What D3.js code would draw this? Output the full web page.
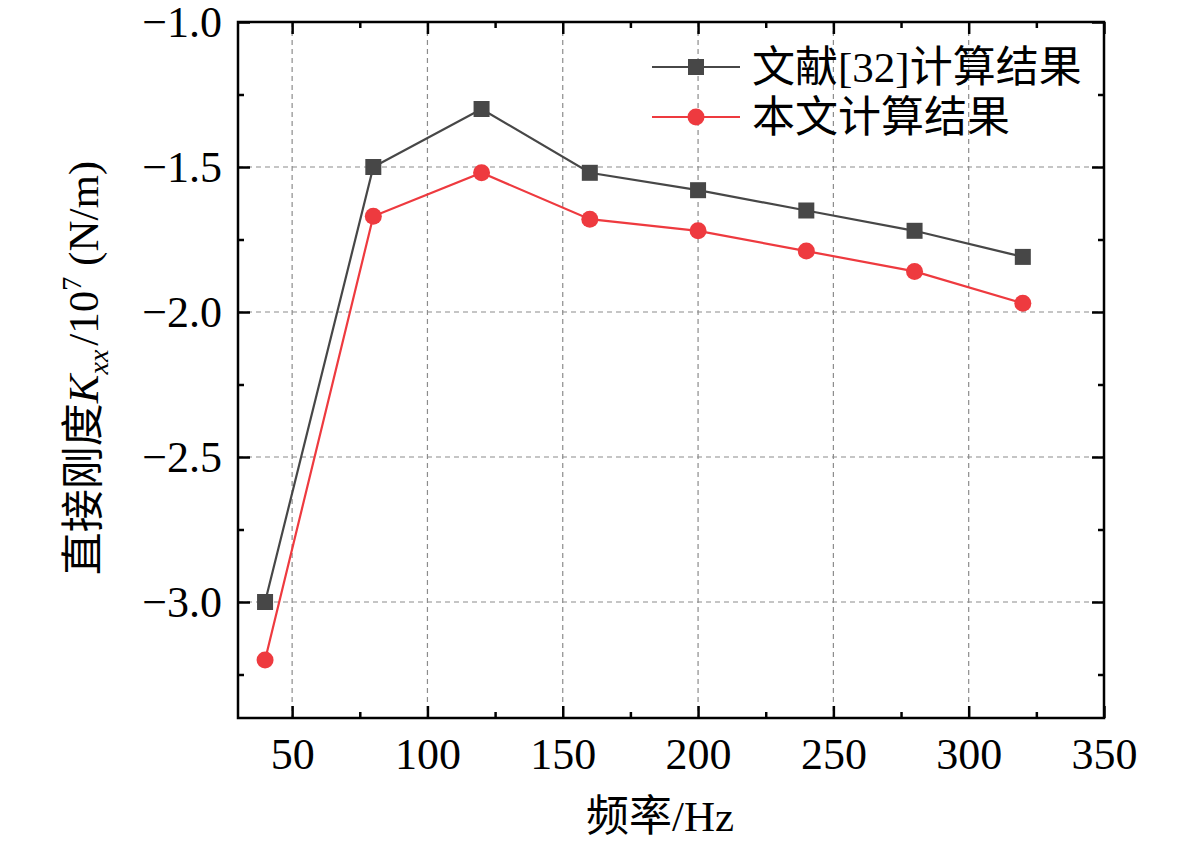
<!DOCTYPE html>
<html><head><meta charset="utf-8">
<script src="https://cdn.jsdelivr.net/npm/d3@7"></script>
<style>
body{margin:0;background:#fff;}
svg text{font-family:"Liberation Serif","Times New Roman","Noto Sans CJK SC",serif;fill:#000;}
</style></head>
<body><svg id="c" width="1181" height="845"></svg>
<script>
const freq = [40, 80, 120, 160, 200, 240, 280, 320];
const refValues = [-3.0, -1.5, -1.3, -1.52, -1.58, -1.65, -1.72, -1.81];
const ourValues = [-3.2, -1.67, -1.52, -1.68, -1.72, -1.79, -1.86, -1.97];
const xTicks = [50, 100, 150, 200, 250, 300, 350];
const yTicks = [-1.0, -1.5, -2.0, -2.5, -3.0];
const seriesNames = ["文献[32]计算结果", "本文计算结果"];

const svg = d3.select("#c");
const L = 238, R = 1104, T = 22, B = 718;
const x = d3.scaleLinear().domain([30, 350]).range([L, R]);
const y = d3.scaleLinear().domain([-3.4, -1.0]).range([B, T]);
const grey = "#474747", red = "#ee3a3f";

// grid
const g = svg.append("g");
g.selectAll(".gx").data(xTicks.filter(v => v < 350)).enter().append("line").attr("class", "gx")
  .attr("x1", d => x(d)).attr("x2", d => x(d)).attr("y1", T).attr("y2", B)
  .attr("stroke", "#8c8c8c").attr("stroke-width", 1.2).attr("stroke-dasharray", "5,4");
g.selectAll(".gy").data(yTicks.filter(v => v < -1.0)).enter().append("line").attr("class", "gy")
  .attr("y1", d => y(d)).attr("y2", d => y(d)).attr("x1", L).attr("x2", R)
  .attr("stroke", "#8c8c8c").attr("stroke-width", 1.2).attr("stroke-dasharray", "5,4");

// axes
const xMinor = d3.range(75, 350, 50);
const yMinor = [-1.25, -1.75, -2.25, -2.75, -3.25];
function styleAxis(sel){
  sel.select(".domain").remove();
  sel.selectAll(".tick line").attr("stroke", "#000").attr("stroke-width", 2.5);
  sel.selectAll("text").style("font-size", "44px").attr("fill", "#000");
}
const fmtY = d => d3.format(".1f")(d).replace("-", "\u2212");
svg.append("g").attr("transform", `translate(0,${B})`)
  .call(d3.axisBottom(x).tickValues(xTicks).tickSize(-12).tickPadding(20).tickFormat(d3.format("d")))
  .call(styleAxis);
svg.append("g").attr("transform", `translate(0,${B})`)
  .call(d3.axisBottom(x).tickValues(xMinor).tickSize(-6).tickFormat(""))
  .call(styleAxis);
svg.append("g").attr("transform", `translate(0,${T})`)
  .call(d3.axisTop(x).tickValues(xTicks).tickSize(-12).tickFormat(""))
  .call(styleAxis);
svg.append("g").attr("transform", `translate(0,${T})`)
  .call(d3.axisTop(x).tickValues(xMinor).tickSize(-6).tickFormat(""))
  .call(styleAxis);
svg.append("g").attr("transform", `translate(${L},0)`)
  .call(d3.axisLeft(y).tickValues(yTicks).tickSize(-12).tickPadding(16).tickFormat(fmtY))
  .call(styleAxis);
svg.append("g").attr("transform", `translate(${L},0)`)
  .call(d3.axisLeft(y).tickValues(yMinor).tickSize(-6).tickFormat(""))
  .call(styleAxis);
svg.append("g").attr("transform", `translate(${R},0)`)
  .call(d3.axisRight(y).tickValues(yTicks).tickSize(-12).tickFormat(""))
  .call(styleAxis);
svg.append("g").attr("transform", `translate(${R},0)`)
  .call(d3.axisRight(y).tickValues(yMinor).tickSize(-6).tickFormat(""))
  .call(styleAxis);
svg.append("rect").attr("x", L).attr("y", T).attr("width", R - L).attr("height", B - T)
  .attr("fill", "none").attr("stroke", "#000").attr("stroke-width", 2.5);

// series
const line = d3.line().x(d => x(d[0])).y(d => y(d[1]));
const refData = freq.map((f, i) => [f, refValues[i]]);
const ourData = freq.map((f, i) => [f, ourValues[i]]);
svg.append("path").datum(refData).attr("d", line).attr("fill", "none").attr("stroke", grey).attr("stroke-width", 2.2);
svg.append("path").datum(ourData).attr("d", line).attr("fill", "none").attr("stroke", red).attr("stroke-width", 2.2);
svg.selectAll(".sq").data(refData).enter().append("rect")
  .attr("x", d => x(d[0]) - 8).attr("y", d => y(d[1]) - 8).attr("width", 16).attr("height", 16).attr("fill", grey);
svg.selectAll(".ci").data(ourData).enter().append("circle")
  .attr("cx", d => x(d[0])).attr("cy", d => y(d[1])).attr("r", 8.5).attr("fill", red);

// legend
const lg = svg.append("g");
[[grey, 67, "sq"], [red, 117, "ci"]].forEach((s, i) => {
  lg.append("line").attr("x1", 652).attr("x2", 740).attr("y1", s[1]).attr("y2", s[1]).attr("stroke", s[0]).attr("stroke-width", 2.2);
  if (s[2] === "sq") lg.append("rect").attr("x", 688).attr("y", s[1] - 8).attr("width", 16).attr("height", 16).attr("fill", s[0]);
  else lg.append("circle").attr("cx", 696).attr("cy", s[1]).attr("r", 8.5).attr("fill", s[0]);
  lg.append("text").attr("x", 752).attr("y", s[1]).attr("dy", "0.36em").style("font-size", "43px").text(seriesNames[i]);
});

// axis titles
svg.append("text").attr("x", 660).attr("y", 831).attr("text-anchor", "middle").style("font-size", "43px").text("频率/Hz");
const yt = svg.append("text").attr("transform", "translate(98,368) rotate(-90)").attr("text-anchor", "middle").style("font-size", "43px");
yt.append("tspan").text("直接刚度");
yt.append("tspan").style("font-style", "italic").text("K");
yt.append("tspan").style("font-style", "italic").style("font-size", "28px").attr("dy", 10).text("xx");
yt.append("tspan").attr("dx", 4).attr("dy", -10).text("/10");
yt.append("tspan").style("font-size", "28px").attr("dy", -17).text("7");
yt.append("tspan").attr("dy", 17).text(" (N/m)");
</script></body></html>
